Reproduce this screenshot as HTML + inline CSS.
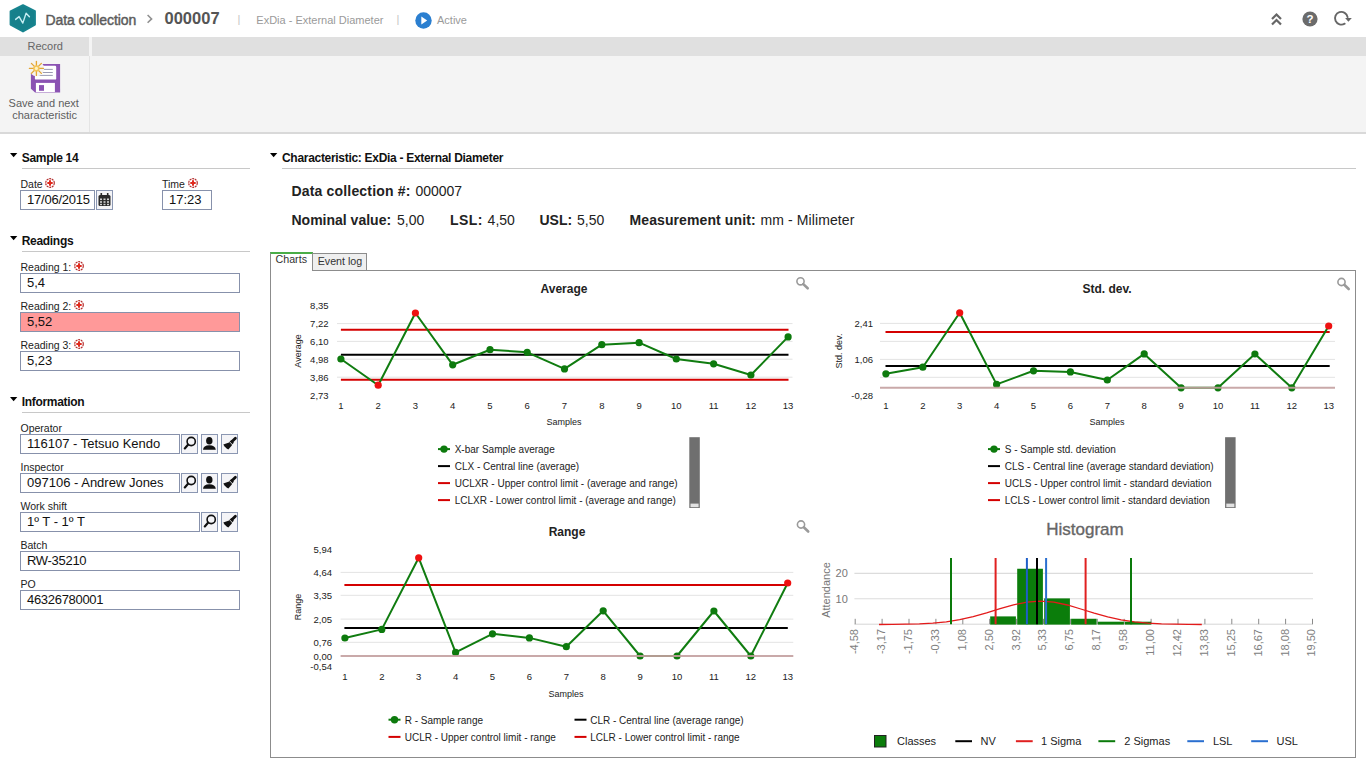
<!DOCTYPE html>
<html><head><meta charset="utf-8"><title>Data collection</title>
<style>
*{margin:0;padding:0;box-sizing:border-box}
html,body{width:1366px;height:768px;overflow:hidden;background:#fff;font-family:"Liberation Sans",sans-serif;color:#222}
.a{position:absolute;white-space:nowrap}
#page{position:relative;width:1366px;height:768px;overflow:hidden}
.hdr-t{color:#5c5c5c;font-weight:normal;font-size:14px;letter-spacing:-0.08px;-webkit-text-stroke:0.45px #5c5c5c}
.sub{color:#9a9a9a;font-size:11px}
.sep{color:#c4c4c4;font-size:11px}
.sec{font-weight:bold;font-size:12px;letter-spacing:-0.3px;color:#111}
.tri{width:0;height:0;border-left:3.8px solid transparent;border-right:3.8px solid transparent;border-top:4.2px solid #111;position:absolute}
.hr{position:absolute;height:1px;background:#c8c8c8}
.lbl{font-size:10.5px;color:#222}
.inp{position:absolute;border:1px solid #8791ab;background:#fff;font-size:13px;color:#111;padding-left:6px;line-height:17px;height:20px}
.btn{position:absolute;border:1px solid #8b97b2;background:#f4f4f7;height:20px;width:17px}
.req{position:absolute;width:10px;height:10px}
</style></head>
<body><div id="page">

<!-- ===== header ===== -->
<svg class="a" style="left:6px;top:2px" width="34" height="34" viewBox="0 0 34 34">
  <path d="M17 3.2 L28.9 9.2 L28.9 22.6 L17 29.5 L4.6 22.6 L4.6 9.4 Z" fill="#16808b" stroke="#17848f" stroke-width="2" stroke-linejoin="round"/>
  <path d="M9.6 17.4 L13.1 14.6 L16.8 21.1 L20.1 11.2 L23.4 14.8" fill="none" stroke="#c6edf3" stroke-width="1.4" stroke-linejoin="round" stroke-linecap="round"/>
</svg>
<div class="a hdr-t" style="left:45.5px;top:11.5px;line-height:17px">Data collection</div>
<svg class="a" style="left:146px;top:14px" width="8" height="10"><path d="M1.6 1 L5.6 4.9 L1.6 8.8" fill="none" stroke="#909090" stroke-width="1.6"/></svg>
<div class="a" style="left:164.5px;top:9px;font-size:16.5px;font-weight:bold;color:#555;line-height:18px">000007</div>
<div class="a sep" style="left:237.5px;top:13px">|</div>
<div class="a sub" style="left:256.3px;top:14px">ExDia - External Diameter</div>
<div class="a sep" style="left:396.5px;top:13px">|</div>
<svg class="a" style="left:414.5px;top:11.5px" width="17" height="17"><circle cx="8.5" cy="8.5" r="8.2" fill="#2b7fd0"/><path d="M6.3 4.6 L12.2 8.5 L6.3 12.4 Z" fill="#fff"/></svg>
<div class="a sub" style="left:437px;top:14px">Active</div>
<!-- right icons -->
<svg class="a" style="left:1270px;top:12px" width="13" height="15"><path d="M2 7 L6.5 2.5 L11 7 M2 12.5 L6.5 8 L11 12.5" fill="none" stroke="#666" stroke-width="2.2"/></svg>
<svg class="a" style="left:1301.5px;top:10.5px" width="16" height="16"><circle cx="8" cy="8" r="7.6" fill="#6b6b6b"/><text x="8" y="12.2" font-size="11.5" font-weight="bold" fill="#fff" text-anchor="middle" font-family="Liberation Sans">?</text></svg>
<svg class="a" style="left:1333px;top:10px" width="20" height="17"><path d="M11.71 13.64 A6.35 6.35 0 1 1 14.60 7.15" fill="none" stroke="#666" stroke-width="1.9" stroke-linecap="round"/><path d="M12.1 7.9 L18.8 7.9 L15.4 11.7 Z" fill="#666"/></svg>

<!-- ===== toolbar ===== -->
<div class="a" style="left:0;top:37px;width:1366px;height:95px;background:#f4f4f4"></div>
<div class="a" style="left:0;top:37px;width:89px;height:19px;background:#e0e0e0"></div>
<div class="a" style="left:92px;top:37px;width:1274px;height:19px;background:#e0e0e0"></div>
<div class="a" style="left:89px;top:56px;width:1px;height:76px;background:#e4e4e4"></div>
<div class="a" style="left:0;top:132px;width:1366px;height:2px;background:#d9d9d9"></div>
<div class="a" style="left:27.5px;top:39.5px;font-size:11px;color:#666">Record</div>
<svg class="a" style="left:26px;top:58px" width="40" height="40" viewBox="0 0 40 40">
  <path d="M4.9 6 L34.1 6 L34.1 34.6 L9.1 34.6 L4.9 30.7 Z" fill="#8b53b3"/>
  <rect x="8.9" y="7.8" width="21.3" height="13.8" rx="1.2" fill="#fff"/>
  <line x1="12" y1="11.4" x2="26.8" y2="11.4" stroke="#8d8fa8" stroke-width="0.9"/>
  <line x1="12" y1="14.5" x2="26.8" y2="14.5" stroke="#8d8fa8" stroke-width="0.9"/>
  <line x1="12" y1="17.4" x2="26.8" y2="17.4" stroke="#8d8fa8" stroke-width="0.9"/>
  <rect x="9.9" y="24.9" width="19" height="9.2" fill="#fff"/>
  <rect x="13" y="27.1" width="5" height="5.7" fill="#8b53b3"/>
  <circle cx="10.6" cy="10.6" r="7.6" fill="#f6f3ee"/><g stroke="#e3a533" stroke-width="1.3" stroke-linecap="round"><line x1="10.4" y1="3.4" x2="10.4" y2="17.4"/><line x1="3.4" y1="10.4" x2="17.4" y2="10.4"/><line x1="5.4" y1="5.4" x2="15.4" y2="15.4"/><line x1="15.4" y1="5.4" x2="5.4" y2="15.4"/></g>
  <circle cx="10.4" cy="10.4" r="3.2" fill="#f3c45a"/><circle cx="10.4" cy="10.4" r="1.6" fill="#fff3c0"/>
</svg>
<div class="a" style="left:8.6px;top:97px;font-size:11px;color:#5e5e5e">Save and next</div>
<div class="a" style="left:12.2px;top:109px;font-size:11px;color:#5e5e5e">characteristic</div>

<!-- ===== left panel ===== -->
<svg class="a" style="left:9.8px;top:152.7px" width="8" height="5"><path d="M0 0 H7.3 L3.65 4.3 Z" fill="#000"/></svg>
<div class="a sec" style="left:21.7px;top:150.5px">Sample 14</div>
<div class="hr" style="left:22px;top:168px;width:228px"></div>
<div class="a lbl" style="left:20.5px;top:177.5px">Date</div>
<svg class="a" style="left:45.4px;top:178.0px" width="10" height="10" viewBox="0 0 10 10"><circle cx="5" cy="5" r="4.3" fill="none" stroke="#b53030" stroke-width="1.2" stroke-dasharray="2 0.7"/><path d="M5 2.3 V7.7 M2.3 5 H7.7" stroke="#e02a1e" stroke-width="2"/></svg>
<div class="inp" style="left:20px;top:190px;width:75px;padding-left:6px;letter-spacing:-0.22px">17/06/2015</div>
<div class="btn" style="left:96px;top:190px"></div>
<svg class="a" style="left:98px;top:192px" width="13" height="15" viewBox="0 0 13 15"><rect x="0.5" y="3" width="12" height="11" rx="1.5" fill="#2a2a2a"/><rect x="2.5" y="1" width="1.6" height="4" fill="#2a2a2a"/><rect x="8.9" y="1" width="1.6" height="4" fill="#2a2a2a"/><g fill="#d0d0d0"><rect x="2" y="6.5" width="2" height="1.6"/><rect x="5.5" y="6.5" width="2" height="1.6"/><rect x="9" y="6.5" width="2" height="1.6"/><rect x="2" y="9.2" width="2" height="1.6"/><rect x="5.5" y="9.2" width="2" height="1.6"/><rect x="9" y="9.2" width="2" height="1.6"/><rect x="2" y="11.8" width="2" height="1.4"/><rect x="5.5" y="11.8" width="2" height="1.4"/><rect x="9" y="11.8" width="2" height="1.4"/></g></svg>
<div class="a lbl" style="left:162px;top:177.5px">Time</div>
<svg class="a" style="left:188.2px;top:178.0px" width="10" height="10" viewBox="0 0 10 10"><circle cx="5" cy="5" r="4.3" fill="none" stroke="#b53030" stroke-width="1.2" stroke-dasharray="2 0.7"/><path d="M5 2.3 V7.7 M2.3 5 H7.7" stroke="#e02a1e" stroke-width="2"/></svg>
<div class="inp" style="left:162px;top:190px;width:50px">17:23</div>

<svg class="a" style="left:9.8px;top:236.2px" width="8" height="5"><path d="M0 0 H7.3 L3.65 4.3 Z" fill="#000"/></svg>
<div class="a sec" style="left:21.7px;top:233.5px">Readings</div>
<div class="hr" style="left:22px;top:251px;width:228px"></div>
<div class="a lbl" style="left:20.5px;top:261px">Reading 1:</div>
<svg class="a" style="left:74.2px;top:261.4px" width="10" height="10" viewBox="0 0 10 10"><circle cx="5" cy="5" r="4.3" fill="none" stroke="#b53030" stroke-width="1.2" stroke-dasharray="2 0.7"/><path d="M5 2.3 V7.7 M2.3 5 H7.7" stroke="#e02a1e" stroke-width="2"/></svg>
<div class="inp" style="left:20px;top:273px;width:220px">5,4</div>
<div class="a lbl" style="left:20.5px;top:300px">Reading 2:</div>
<svg class="a" style="left:74.2px;top:300.4px" width="10" height="10" viewBox="0 0 10 10"><circle cx="5" cy="5" r="4.3" fill="none" stroke="#b53030" stroke-width="1.2" stroke-dasharray="2 0.7"/><path d="M5 2.3 V7.7 M2.3 5 H7.7" stroke="#e02a1e" stroke-width="2"/></svg>
<div class="inp" style="left:20px;top:312px;width:220px;background:#ff9999">5,52</div>
<div class="a lbl" style="left:20.5px;top:339px">Reading 3:</div>
<svg class="a" style="left:74.2px;top:339.4px" width="10" height="10" viewBox="0 0 10 10"><circle cx="5" cy="5" r="4.3" fill="none" stroke="#b53030" stroke-width="1.2" stroke-dasharray="2 0.7"/><path d="M5 2.3 V7.7 M2.3 5 H7.7" stroke="#e02a1e" stroke-width="2"/></svg>
<div class="inp" style="left:20px;top:351px;width:220px">5,23</div>

<svg class="a" style="left:9.8px;top:397.2px" width="8" height="5"><path d="M0 0 H7.3 L3.65 4.3 Z" fill="#000"/></svg>
<div class="a sec" style="left:21.7px;top:394.5px">Information</div>
<div class="hr" style="left:22px;top:412px;width:228px"></div>
<div class="a lbl" style="left:20.5px;top:422px">Operator</div>
<div class="inp" style="left:20px;top:434px;width:160px">116107 - Tetsuo Kendo</div>
<div class="btn" style="left:181px;top:434.0px"></div><div class="a" style="left:181px;top:434.0px;line-height:0"><svg width="17" height="20" viewBox="0 0 17 20"><circle cx="10.2" cy="7.5" r="4.1" fill="none" stroke="#111" stroke-width="1.6"/><line x1="7.2" y1="10.6" x2="3.8" y2="14.4" stroke="#111" stroke-width="2.2" stroke-linecap="round"/></svg></div><div class="btn" style="left:201px;top:434.0px"></div><div class="a" style="left:201px;top:434.0px;line-height:0"><svg width="17" height="20" viewBox="0 0 17 20"><ellipse cx="8.3" cy="6.7" rx="3.2" ry="3.8" fill="#111"/><path d="M2 15.8 Q2.4 11.2 8.3 11.2 Q14.3 11.2 14.8 15.8 Z" fill="#111"/></svg></div><div class="btn" style="left:221px;top:434.0px"></div><div class="a" style="left:221px;top:434.0px;line-height:0"><svg width="17" height="20" viewBox="0 0 17 20"><line x1="14.4" y1="4.2" x2="11" y2="7.6" stroke="#111" stroke-width="2.8" stroke-linecap="round"/><path d="M10.3 6.1 L12.9 8.7 L10.5 11.1 L7.9 8.5 Z" fill="#111"/><path d="M8.1 8.4 L11 11.3 L7.3 15.6 L5.6 14.4 L3.4 12.2 L2.3 10.5 Z" fill="#111"/><line x1="8.4" y1="7.6" x2="11.8" y2="11" stroke="#ddd" stroke-width="0.9"/></svg></div>
<div class="a lbl" style="left:20.5px;top:461px">Inspector</div>
<div class="inp" style="left:20px;top:473px;width:160px">097106 - Andrew Jones</div>
<div class="btn" style="left:181px;top:473.0px"></div><div class="a" style="left:181px;top:473.0px;line-height:0"><svg width="17" height="20" viewBox="0 0 17 20"><circle cx="10.2" cy="7.5" r="4.1" fill="none" stroke="#111" stroke-width="1.6"/><line x1="7.2" y1="10.6" x2="3.8" y2="14.4" stroke="#111" stroke-width="2.2" stroke-linecap="round"/></svg></div><div class="btn" style="left:201px;top:473.0px"></div><div class="a" style="left:201px;top:473.0px;line-height:0"><svg width="17" height="20" viewBox="0 0 17 20"><ellipse cx="8.3" cy="6.7" rx="3.2" ry="3.8" fill="#111"/><path d="M2 15.8 Q2.4 11.2 8.3 11.2 Q14.3 11.2 14.8 15.8 Z" fill="#111"/></svg></div><div class="btn" style="left:221px;top:473.0px"></div><div class="a" style="left:221px;top:473.0px;line-height:0"><svg width="17" height="20" viewBox="0 0 17 20"><line x1="14.4" y1="4.2" x2="11" y2="7.6" stroke="#111" stroke-width="2.8" stroke-linecap="round"/><path d="M10.3 6.1 L12.9 8.7 L10.5 11.1 L7.9 8.5 Z" fill="#111"/><path d="M8.1 8.4 L11 11.3 L7.3 15.6 L5.6 14.4 L3.4 12.2 L2.3 10.5 Z" fill="#111"/><line x1="8.4" y1="7.6" x2="11.8" y2="11" stroke="#ddd" stroke-width="0.9"/></svg></div>
<div class="a lbl" style="left:20.5px;top:500px">Work shift</div>
<div class="inp" style="left:20px;top:512px;width:180px">1º T - 1º T</div>
<div class="btn" style="left:201px;top:512.0px"></div><div class="a" style="left:201px;top:512.0px;line-height:0"><svg width="17" height="20" viewBox="0 0 17 20"><circle cx="10.2" cy="7.5" r="4.1" fill="none" stroke="#111" stroke-width="1.6"/><line x1="7.2" y1="10.6" x2="3.8" y2="14.4" stroke="#111" stroke-width="2.2" stroke-linecap="round"/></svg></div><div class="btn" style="left:221px;top:512.0px"></div><div class="a" style="left:221px;top:512.0px;line-height:0"><svg width="17" height="20" viewBox="0 0 17 20"><line x1="14.4" y1="4.2" x2="11" y2="7.6" stroke="#111" stroke-width="2.8" stroke-linecap="round"/><path d="M10.3 6.1 L12.9 8.7 L10.5 11.1 L7.9 8.5 Z" fill="#111"/><path d="M8.1 8.4 L11 11.3 L7.3 15.6 L5.6 14.4 L3.4 12.2 L2.3 10.5 Z" fill="#111"/><line x1="8.4" y1="7.6" x2="11.8" y2="11" stroke="#ddd" stroke-width="0.9"/></svg></div>
<div class="a lbl" style="left:20.5px;top:539px">Batch</div>
<div class="inp" style="left:20px;top:551px;width:220px;letter-spacing:-0.3px">RW-35210</div>
<div class="a lbl" style="left:20.5px;top:578px">PO</div>
<div class="inp" style="left:20px;top:590px;width:220px;letter-spacing:-0.3px">46326780001</div>

<!-- ===== main ===== -->
<svg class="a" style="left:269.8px;top:153.2px" width="8" height="5"><path d="M0 0 H7.3 L3.65 4.3 Z" fill="#000"/></svg>
<div class="a sec" style="left:282px;top:151px">Characteristic: ExDia - External Diameter</div>
<div class="hr" style="left:282px;top:168px;width:1074px"></div>
<div class="a" style="left:291.5px;top:183px;font-size:14px"><b style="letter-spacing:0.17px">Data collection #:</b> <span style="margin-left:1px">000007</span></div>
<div class="a" style="left:291.5px;top:212px;font-size:14px"><b>Nominal value:</b> <span style="margin-left:2px">5,00</span></div>
<div class="a" style="left:450px;top:212px;font-size:14px"><b style="letter-spacing:0.4px">LSL:</b> <span style="margin-left:1px">4,50</span></div>
<div class="a" style="left:539.5px;top:212px;font-size:14px"><b>USL:</b> <span style="margin-left:1px">5,50</span></div>
<div class="a" style="left:629.5px;top:212px;font-size:14px"><b style="letter-spacing:0.1px">Measurement unit:</b> <span style="margin-left:1px;letter-spacing:0.1px">mm - Milimeter</span></div>

<!-- tabs -->
<div class="a" style="left:270px;top:270px;width:1086px;height:488px;border:1px solid #8c8c8c;border-top-color:#8c8c8c"></div>
<div class="a" style="left:312px;top:253px;width:55px;height:18px;border:1px solid #8c8c8c;background:#efefef"></div>
<div class="a" style="left:270px;top:252px;width:43px;height:19px;border:1px solid #8c8c8c;border-bottom:none;background:#fff;border-top:2px solid #4aad47"></div>
<div class="a" style="left:275.5px;top:253px;font-size:10.7px;color:#333">Charts</div>
<div class="a" style="left:317.7px;top:254.5px;font-size:10.7px;color:#333">Event log</div>

<svg class="a" style="left:0;top:0" width="1366" height="768" font-family="Liberation Sans, sans-serif">
<line x1="337" y1="323.6" x2="792.5" y2="323.6" stroke="#e3e3e3" stroke-width="1"/>
<line x1="337" y1="341.4" x2="792.5" y2="341.4" stroke="#e3e3e3" stroke-width="1"/>
<line x1="337" y1="359.2" x2="792.5" y2="359.2" stroke="#e3e3e3" stroke-width="1"/>
<line x1="337" y1="377.2" x2="792.5" y2="377.2" stroke="#e3e3e3" stroke-width="1"/>
<line x1="340.9" y1="329.7" x2="788.5" y2="329.7" stroke="#d40000" stroke-width="2"/>
<line x1="340.9" y1="379.8" x2="788.5" y2="379.8" stroke="#d40000" stroke-width="2"/>
<line x1="340.9" y1="354.8" x2="788.5" y2="354.8" stroke="#000" stroke-width="2"/>
<polyline fill="none" stroke="#107c10" stroke-width="2" stroke-linejoin="round" points="340.9,359.0 378.2,385.2 415.4,313.0 452.7,364.8 490.0,349.7 527.2,352.3 564.5,368.9 601.8,344.7 639.1,342.7 676.3,359.0 713.6,363.8 750.9,375.0 788.1,336.9"/>
<circle cx="340.9" cy="359.0" r="3.6" fill="#0d7a0d"/>
<circle cx="378.2" cy="385.2" r="3.6" fill="#ee1111"/>
<circle cx="415.4" cy="313.0" r="3.6" fill="#ee1111"/>
<circle cx="452.7" cy="364.8" r="3.6" fill="#0d7a0d"/>
<circle cx="490.0" cy="349.7" r="3.6" fill="#0d7a0d"/>
<circle cx="527.2" cy="352.3" r="3.6" fill="#0d7a0d"/>
<circle cx="564.5" cy="368.9" r="3.6" fill="#0d7a0d"/>
<circle cx="601.8" cy="344.7" r="3.6" fill="#0d7a0d"/>
<circle cx="639.1" cy="342.7" r="3.6" fill="#0d7a0d"/>
<circle cx="676.3" cy="359.0" r="3.6" fill="#0d7a0d"/>
<circle cx="713.6" cy="363.8" r="3.6" fill="#0d7a0d"/>
<circle cx="750.9" cy="375.0" r="3.6" fill="#0d7a0d"/>
<circle cx="788.1" cy="336.9" r="3.6" fill="#0d7a0d"/>
<text x="328.6" y="309.4" font-size="9.5" fill="#222" font-weight="normal" text-anchor="end" >8,35</text>
<text x="328.6" y="327.0" font-size="9.5" fill="#222" font-weight="normal" text-anchor="end" >7,22</text>
<text x="328.6" y="344.79999999999995" font-size="9.5" fill="#222" font-weight="normal" text-anchor="end" >6,10</text>
<text x="328.6" y="362.59999999999997" font-size="9.5" fill="#222" font-weight="normal" text-anchor="end" >4,98</text>
<text x="328.6" y="380.59999999999997" font-size="9.5" fill="#222" font-weight="normal" text-anchor="end" >3,86</text>
<text x="328.6" y="398.9" font-size="9.5" fill="#222" font-weight="normal" text-anchor="end" >2,73</text>
<text x="340.9" y="409.4" font-size="9.5" fill="#222" font-weight="normal" text-anchor="middle" >1</text>
<text x="378.2" y="409.4" font-size="9.5" fill="#222" font-weight="normal" text-anchor="middle" >2</text>
<text x="415.4" y="409.4" font-size="9.5" fill="#222" font-weight="normal" text-anchor="middle" >3</text>
<text x="452.7" y="409.4" font-size="9.5" fill="#222" font-weight="normal" text-anchor="middle" >4</text>
<text x="490.0" y="409.4" font-size="9.5" fill="#222" font-weight="normal" text-anchor="middle" >5</text>
<text x="527.2" y="409.4" font-size="9.5" fill="#222" font-weight="normal" text-anchor="middle" >6</text>
<text x="564.5" y="409.4" font-size="9.5" fill="#222" font-weight="normal" text-anchor="middle" >7</text>
<text x="601.8" y="409.4" font-size="9.5" fill="#222" font-weight="normal" text-anchor="middle" >8</text>
<text x="639.1" y="409.4" font-size="9.5" fill="#222" font-weight="normal" text-anchor="middle" >9</text>
<text x="676.3" y="409.4" font-size="9.5" fill="#222" font-weight="normal" text-anchor="middle" >10</text>
<text x="713.6" y="409.4" font-size="9.5" fill="#222" font-weight="normal" text-anchor="middle" >11</text>
<text x="750.9" y="409.4" font-size="9.5" fill="#222" font-weight="normal" text-anchor="middle" >12</text>
<text x="788.1" y="409.4" font-size="9.5" fill="#222" font-weight="normal" text-anchor="middle" >13</text>
<text x="564" y="425.2" font-size="9" fill="#222" font-weight="normal" text-anchor="middle" >Samples</text>
<text x="564" y="293" font-size="12" fill="#222" font-weight="bold" text-anchor="middle" >Average</text>
<text x="297.5" y="351" font-size="9" fill="#222" text-anchor="middle" transform="rotate(-90 297.5 351)" dy="3.2">Average</text>
<circle cx="800.5" cy="281.3" r="3.6" fill="none" stroke="#9a9a9a" stroke-width="1.6"/><line x1="803.3" y1="284.1" x2="807.7" y2="288.3" stroke="#9a9a9a" stroke-width="2.6" stroke-linecap="round"/>
<line x1="880" y1="323.4" x2="1335" y2="323.4" stroke="#e3e3e3" stroke-width="1"/>
<line x1="880" y1="341.4" x2="1335" y2="341.4" stroke="#e3e3e3" stroke-width="1"/>
<line x1="880" y1="359.4" x2="1335" y2="359.4" stroke="#e3e3e3" stroke-width="1"/>
<line x1="880" y1="377.3" x2="1335" y2="377.3" stroke="#e3e3e3" stroke-width="1"/>
<line x1="885.5" y1="332" x2="1329.7" y2="332" stroke="#d40000" stroke-width="2"/>
<line x1="885.5" y1="365.9" x2="1329.7" y2="365.9" stroke="#000" stroke-width="2"/>
<polyline fill="none" stroke="#107c10" stroke-width="2" stroke-linejoin="round" points="885.9,373.8 922.8,367.2 959.7,312.8 996.6,384.4 1033.5,370.8 1070.4,371.9 1107.3,380.0 1144.2,353.9 1181.1,387.8 1218.0,387.8 1254.9,354.0 1291.8,387.8 1328.7,326.0"/>
<circle cx="885.9" cy="373.8" r="3.6" fill="#0d7a0d"/>
<circle cx="922.8" cy="367.2" r="3.6" fill="#0d7a0d"/>
<circle cx="959.7" cy="312.8" r="3.6" fill="#ee1111"/>
<circle cx="996.6" cy="384.4" r="3.6" fill="#0d7a0d"/>
<circle cx="1033.5" cy="370.8" r="3.6" fill="#0d7a0d"/>
<circle cx="1070.4" cy="371.9" r="3.6" fill="#0d7a0d"/>
<circle cx="1107.3" cy="380.0" r="3.6" fill="#0d7a0d"/>
<circle cx="1144.2" cy="353.9" r="3.6" fill="#0d7a0d"/>
<circle cx="1181.1" cy="387.8" r="3.6" fill="#0d7a0d"/>
<circle cx="1218.0" cy="387.8" r="3.6" fill="#0d7a0d"/>
<circle cx="1254.9" cy="354.0" r="3.6" fill="#0d7a0d"/>
<circle cx="1291.8" cy="387.8" r="3.6" fill="#0d7a0d"/>
<circle cx="1328.7" cy="326.0" r="3.6" fill="#ee1111"/>
<line x1="880" y1="387.8" x2="1335" y2="387.8" stroke="#c4a0a0" stroke-width="2" opacity="0.9"/>
<text x="873" y="326.79999999999995" font-size="9.5" fill="#222" font-weight="normal" text-anchor="end" >2,41</text>
<text x="873" y="362.79999999999995" font-size="9.5" fill="#222" font-weight="normal" text-anchor="end" >1,06</text>
<text x="873" y="399.0" font-size="9.5" fill="#222" font-weight="normal" text-anchor="end" >-0,28</text>
<text x="885.9" y="409.4" font-size="9.5" fill="#222" font-weight="normal" text-anchor="middle" >1</text>
<text x="922.8" y="409.4" font-size="9.5" fill="#222" font-weight="normal" text-anchor="middle" >2</text>
<text x="959.7" y="409.4" font-size="9.5" fill="#222" font-weight="normal" text-anchor="middle" >3</text>
<text x="996.6" y="409.4" font-size="9.5" fill="#222" font-weight="normal" text-anchor="middle" >4</text>
<text x="1033.5" y="409.4" font-size="9.5" fill="#222" font-weight="normal" text-anchor="middle" >5</text>
<text x="1070.4" y="409.4" font-size="9.5" fill="#222" font-weight="normal" text-anchor="middle" >6</text>
<text x="1107.3" y="409.4" font-size="9.5" fill="#222" font-weight="normal" text-anchor="middle" >7</text>
<text x="1144.2" y="409.4" font-size="9.5" fill="#222" font-weight="normal" text-anchor="middle" >8</text>
<text x="1181.1" y="409.4" font-size="9.5" fill="#222" font-weight="normal" text-anchor="middle" >9</text>
<text x="1218.0" y="409.4" font-size="9.5" fill="#222" font-weight="normal" text-anchor="middle" >10</text>
<text x="1254.9" y="409.4" font-size="9.5" fill="#222" font-weight="normal" text-anchor="middle" >11</text>
<text x="1291.8" y="409.4" font-size="9.5" fill="#222" font-weight="normal" text-anchor="middle" >12</text>
<text x="1328.7" y="409.4" font-size="9.5" fill="#222" font-weight="normal" text-anchor="middle" >13</text>
<text x="1107" y="425.2" font-size="9" fill="#222" font-weight="normal" text-anchor="middle" >Samples</text>
<text x="1107" y="293" font-size="12" fill="#222" font-weight="bold" text-anchor="middle" >Std. dev.</text>
<text x="839" y="351" font-size="9" fill="#222" text-anchor="middle" transform="rotate(-90 839 351)" dy="3.2">Std. dev.</text>
<circle cx="1341.5" cy="282" r="3.6" fill="none" stroke="#9a9a9a" stroke-width="1.6"/><line x1="1344.3" y1="284.8" x2="1348.7" y2="289" stroke="#9a9a9a" stroke-width="2.6" stroke-linecap="round"/>
<line x1="340.6" y1="572.4" x2="793.3" y2="572.4" stroke="#e3e3e3" stroke-width="1"/>
<line x1="340.6" y1="595.3" x2="793.3" y2="595.3" stroke="#e3e3e3" stroke-width="1"/>
<line x1="340.6" y1="619.1" x2="793.3" y2="619.1" stroke="#e3e3e3" stroke-width="1"/>
<line x1="340.6" y1="642.3" x2="793.3" y2="642.3" stroke="#e3e3e3" stroke-width="1"/>
<line x1="344.4" y1="585" x2="787.8" y2="585" stroke="#d40000" stroke-width="2"/>
<line x1="344.4" y1="628" x2="787.8" y2="628" stroke="#000" stroke-width="2"/>
<polyline fill="none" stroke="#107c10" stroke-width="2" stroke-linejoin="round" points="344.9,638.0 381.8,629.4 418.7,557.8 455.6,652.4 492.5,633.8 529.4,637.9 566.3,646.7 603.2,610.8 640.1,656.0 677.0,656.0 713.9,611.0 750.8,656.0 787.7,583.0"/>
<circle cx="344.9" cy="638.0" r="3.6" fill="#0d7a0d"/>
<circle cx="381.8" cy="629.4" r="3.6" fill="#0d7a0d"/>
<circle cx="418.7" cy="557.8" r="3.6" fill="#ee1111"/>
<circle cx="455.6" cy="652.4" r="3.6" fill="#0d7a0d"/>
<circle cx="492.5" cy="633.8" r="3.6" fill="#0d7a0d"/>
<circle cx="529.4" cy="637.9" r="3.6" fill="#0d7a0d"/>
<circle cx="566.3" cy="646.7" r="3.6" fill="#0d7a0d"/>
<circle cx="603.2" cy="610.8" r="3.6" fill="#0d7a0d"/>
<circle cx="640.1" cy="656.0" r="3.6" fill="#0d7a0d"/>
<circle cx="677.0" cy="656.0" r="3.6" fill="#0d7a0d"/>
<circle cx="713.9" cy="611.0" r="3.6" fill="#0d7a0d"/>
<circle cx="750.8" cy="656.0" r="3.6" fill="#0d7a0d"/>
<circle cx="787.7" cy="583.0" r="3.6" fill="#ee1111"/>
<line x1="340.6" y1="656" x2="793.3" y2="656" stroke="#c4a0a0" stroke-width="2" opacity="0.9"/>
<text x="332" y="552.6" font-size="9.5" fill="#222" font-weight="normal" text-anchor="end" >5,94</text>
<text x="332" y="576.4" font-size="9.5" fill="#222" font-weight="normal" text-anchor="end" >4,64</text>
<text x="332" y="599.4" font-size="9.5" fill="#222" font-weight="normal" text-anchor="end" >3,35</text>
<text x="332" y="622.9" font-size="9.5" fill="#222" font-weight="normal" text-anchor="end" >2,05</text>
<text x="332" y="646.4" font-size="9.5" fill="#222" font-weight="normal" text-anchor="end" >0,76</text>
<text x="332" y="660.0" font-size="9.5" fill="#222" font-weight="normal" text-anchor="end" >0,00</text>
<text x="332" y="670.1" font-size="9.5" fill="#222" font-weight="normal" text-anchor="end" >-0,54</text>
<text x="344.9" y="680.4" font-size="9.5" fill="#222" font-weight="normal" text-anchor="middle" >1</text>
<text x="381.8" y="680.4" font-size="9.5" fill="#222" font-weight="normal" text-anchor="middle" >2</text>
<text x="418.7" y="680.4" font-size="9.5" fill="#222" font-weight="normal" text-anchor="middle" >3</text>
<text x="455.6" y="680.4" font-size="9.5" fill="#222" font-weight="normal" text-anchor="middle" >4</text>
<text x="492.5" y="680.4" font-size="9.5" fill="#222" font-weight="normal" text-anchor="middle" >5</text>
<text x="529.4" y="680.4" font-size="9.5" fill="#222" font-weight="normal" text-anchor="middle" >6</text>
<text x="566.3" y="680.4" font-size="9.5" fill="#222" font-weight="normal" text-anchor="middle" >7</text>
<text x="603.2" y="680.4" font-size="9.5" fill="#222" font-weight="normal" text-anchor="middle" >8</text>
<text x="640.1" y="680.4" font-size="9.5" fill="#222" font-weight="normal" text-anchor="middle" >9</text>
<text x="677.0" y="680.4" font-size="9.5" fill="#222" font-weight="normal" text-anchor="middle" >10</text>
<text x="713.9" y="680.4" font-size="9.5" fill="#222" font-weight="normal" text-anchor="middle" >11</text>
<text x="750.8" y="680.4" font-size="9.5" fill="#222" font-weight="normal" text-anchor="middle" >12</text>
<text x="787.7" y="680.4" font-size="9.5" fill="#222" font-weight="normal" text-anchor="middle" >13</text>
<text x="566" y="696.95" font-size="9" fill="#222" font-weight="normal" text-anchor="middle" >Samples</text>
<text x="567" y="536" font-size="12" fill="#222" font-weight="bold" text-anchor="middle" >Range</text>
<text x="297.8" y="607" font-size="9" fill="#222" text-anchor="middle" transform="rotate(-90 297.8 607)" dy="3.2">Range</text>
<circle cx="801" cy="524.5" r="3.6" fill="none" stroke="#9a9a9a" stroke-width="1.6"/><line x1="803.8" y1="527.3" x2="808.2" y2="531.5" stroke="#9a9a9a" stroke-width="2.6" stroke-linecap="round"/>
<line x1="854.4" y1="573.4" x2="1313" y2="573.4" stroke="#dcdcdc" stroke-width="1.2"/>
<line x1="854.4" y1="598.75" x2="1313" y2="598.75" stroke="#dcdcdc" stroke-width="1.2"/>
<line x1="854.4" y1="624.2" x2="1313" y2="624.2" stroke="#d5d5d5" stroke-width="1"/>
<line x1="855.2" y1="618.8" x2="855.2" y2="624.2" stroke="#8a8a8a" stroke-width="1"/>
<text x="858.1" y="629" font-size="11" fill="#808080" text-anchor="end" transform="rotate(-90 858.1 629)">-4,58</text>
<line x1="882.1" y1="618.8" x2="882.1" y2="624.2" stroke="#8a8a8a" stroke-width="1"/>
<text x="885.0" y="629" font-size="11" fill="#808080" text-anchor="end" transform="rotate(-90 885.0 629)">-3,17</text>
<line x1="909.0" y1="618.8" x2="909.0" y2="624.2" stroke="#8a8a8a" stroke-width="1"/>
<text x="911.9" y="629" font-size="11" fill="#808080" text-anchor="end" transform="rotate(-90 911.9 629)">-1,75</text>
<line x1="935.9" y1="618.8" x2="935.9" y2="624.2" stroke="#8a8a8a" stroke-width="1"/>
<text x="938.8" y="629" font-size="11" fill="#808080" text-anchor="end" transform="rotate(-90 938.8 629)">-0,33</text>
<line x1="962.8" y1="618.8" x2="962.8" y2="624.2" stroke="#8a8a8a" stroke-width="1"/>
<text x="965.7" y="629" font-size="11" fill="#808080" text-anchor="end" transform="rotate(-90 965.7 629)">1,08</text>
<line x1="989.7" y1="618.8" x2="989.7" y2="624.2" stroke="#8a8a8a" stroke-width="1"/>
<text x="992.6" y="629" font-size="11" fill="#808080" text-anchor="end" transform="rotate(-90 992.6 629)">2,50</text>
<line x1="1016.6" y1="618.8" x2="1016.6" y2="624.2" stroke="#8a8a8a" stroke-width="1"/>
<text x="1019.5" y="629" font-size="11" fill="#808080" text-anchor="end" transform="rotate(-90 1019.5 629)">3,92</text>
<line x1="1043.5" y1="618.8" x2="1043.5" y2="624.2" stroke="#8a8a8a" stroke-width="1"/>
<text x="1046.4" y="629" font-size="11" fill="#808080" text-anchor="end" transform="rotate(-90 1046.4 629)">5,33</text>
<line x1="1070.4" y1="618.8" x2="1070.4" y2="624.2" stroke="#8a8a8a" stroke-width="1"/>
<text x="1073.3" y="629" font-size="11" fill="#808080" text-anchor="end" transform="rotate(-90 1073.3 629)">6,75</text>
<line x1="1097.3" y1="618.8" x2="1097.3" y2="624.2" stroke="#8a8a8a" stroke-width="1"/>
<text x="1100.2" y="629" font-size="11" fill="#808080" text-anchor="end" transform="rotate(-90 1100.2 629)">8,17</text>
<line x1="1124.2" y1="618.8" x2="1124.2" y2="624.2" stroke="#8a8a8a" stroke-width="1"/>
<text x="1127.1" y="629" font-size="11" fill="#808080" text-anchor="end" transform="rotate(-90 1127.1 629)">9,58</text>
<line x1="1151.1" y1="618.8" x2="1151.1" y2="624.2" stroke="#8a8a8a" stroke-width="1"/>
<text x="1154.0" y="629" font-size="11" fill="#808080" text-anchor="end" transform="rotate(-90 1154.0 629)">11,00</text>
<line x1="1178.0" y1="618.8" x2="1178.0" y2="624.2" stroke="#8a8a8a" stroke-width="1"/>
<text x="1180.9" y="629" font-size="11" fill="#808080" text-anchor="end" transform="rotate(-90 1180.9 629)">12,42</text>
<line x1="1204.9" y1="618.8" x2="1204.9" y2="624.2" stroke="#8a8a8a" stroke-width="1"/>
<text x="1207.8" y="629" font-size="11" fill="#808080" text-anchor="end" transform="rotate(-90 1207.8 629)">13,83</text>
<line x1="1231.8" y1="618.8" x2="1231.8" y2="624.2" stroke="#8a8a8a" stroke-width="1"/>
<text x="1234.7" y="629" font-size="11" fill="#808080" text-anchor="end" transform="rotate(-90 1234.7 629)">15,25</text>
<line x1="1258.7" y1="618.8" x2="1258.7" y2="624.2" stroke="#8a8a8a" stroke-width="1"/>
<text x="1261.6" y="629" font-size="11" fill="#808080" text-anchor="end" transform="rotate(-90 1261.6 629)">16,67</text>
<line x1="1285.6" y1="618.8" x2="1285.6" y2="624.2" stroke="#8a8a8a" stroke-width="1"/>
<text x="1288.5" y="629" font-size="11" fill="#808080" text-anchor="end" transform="rotate(-90 1288.5 629)">18,08</text>
<line x1="1312.5" y1="618.8" x2="1312.5" y2="624.2" stroke="#8a8a8a" stroke-width="1"/>
<text x="1315.4" y="629" font-size="11" fill="#808080" text-anchor="end" transform="rotate(-90 1315.4 629)">19,50</text>
<rect x="990.2" y="616.4" width="25.7" height="8.2" fill="#0b7d0b"/>
<rect x="1017.2" y="568.75" width="25.7" height="55.9" fill="#0b7d0b"/>
<rect x="1044.2" y="598.4" width="25.7" height="26.2" fill="#0b7d0b"/>
<rect x="1071.1" y="618.75" width="25.5" height="5.9" fill="#0b7d0b"/>
<rect x="1097.8" y="621.7" width="26.1" height="2.9" fill="#0b7d0b"/>
<rect x="1124.9" y="621.7" width="26.4" height="2.9" fill="#0b7d0b"/>
<polyline fill="none" stroke="#e31a1a" stroke-width="1.3" points="879.0,624.5 892.5,624.4 905.9,624.2 919.4,623.9 932.8,623.1 946.3,621.8 959.7,619.7 973.2,616.7 986.6,612.9 1000.1,608.7 1013.5,604.8 1027.0,602.1 1040.4,601.1 1053.9,602.2 1067.3,605.0 1080.8,609.0 1094.2,613.2 1107.7,616.9 1121.1,619.9 1134.6,621.9 1148.0,623.2 1161.5,623.9 1174.9,624.2 1188.4,624.4 1201.8,624.5"/>
<line x1="951" y1="558" x2="951" y2="624.2" stroke="#0a7a0a" stroke-width="2"/>
<line x1="995.6" y1="558" x2="995.6" y2="624.2" stroke="#e02020" stroke-width="2"/>
<line x1="1026.9" y1="558" x2="1026.9" y2="624.2" stroke="#1f5fc8" stroke-width="2"/>
<line x1="1037" y1="558" x2="1037" y2="624.2" stroke="#000" stroke-width="2"/>
<line x1="1046.1" y1="558" x2="1046.1" y2="624.2" stroke="#2a6fd0" stroke-width="2"/>
<line x1="1085.6" y1="558" x2="1085.6" y2="624.2" stroke="#e02020" stroke-width="2"/>
<line x1="1131" y1="558" x2="1131" y2="624.2" stroke="#0a7a0a" stroke-width="2"/>
<text x="847.8" y="577.4" font-size="11" fill="#777" font-weight="normal" text-anchor="end" >20</text>
<text x="847.8" y="602.7" font-size="11" fill="#777" font-weight="normal" text-anchor="end" >10</text>
<text x="825.6" y="590" font-size="11" fill="#777" text-anchor="middle" dy="4" transform="rotate(-90 825.6 590)">Attendance</text>
<text x="1085" y="534.7" font-size="17" fill="#666" font-weight="normal" text-anchor="middle" stroke="#666" stroke-width="0.35">Histogram</text>
<rect x="874.5" y="735.5" width="11.5" height="11.5" fill="#0b7d0b" stroke="#222" stroke-width="1"/>
<text x="897" y="745" font-size="11" fill="#222" font-weight="normal" text-anchor="start" >Classes</text>
<line x1="955.3" y1="741.2" x2="972" y2="741.2" stroke="#000" stroke-width="2"/>
<text x="980.5" y="745" font-size="11" fill="#222" font-weight="normal" text-anchor="start" >NV</text>
<line x1="1015.9" y1="741.2" x2="1032.7" y2="741.2" stroke="#e02020" stroke-width="2"/>
<text x="1041" y="745" font-size="11" fill="#222" font-weight="normal" text-anchor="start" >1 Sigma</text>
<line x1="1098.4" y1="741.2" x2="1115.2" y2="741.2" stroke="#0a7a0a" stroke-width="2"/>
<text x="1124.3" y="745" font-size="11" fill="#222" font-weight="normal" text-anchor="start" >2 Sigmas</text>
<line x1="1187.3" y1="741.2" x2="1204" y2="741.2" stroke="#2a6fd0" stroke-width="2"/>
<text x="1212.9" y="745" font-size="11" fill="#222" font-weight="normal" text-anchor="start" >LSL</text>
<line x1="1251.2" y1="741.2" x2="1268" y2="741.2" stroke="#2a6fd0" stroke-width="2"/>
<text x="1276.5" y="745" font-size="11" fill="#222" font-weight="normal" text-anchor="start" >USL</text>
<line x1="438" y1="449.1" x2="450" y2="449.1" stroke="#0d7a0d" stroke-width="2"/><circle cx="444" cy="449.1" r="3.7" fill="#0d7a0d"/>
<text x="454.7" y="453.3" font-size="10" fill="#222" font-weight="normal" text-anchor="start" >X-bar Sample average</text>
<line x1="438" y1="466.1" x2="450" y2="466.1" stroke="#000" stroke-width="2"/>
<text x="454.7" y="470.3" font-size="10" fill="#222" font-weight="normal" text-anchor="start" >CLX - Central line (average)</text>
<line x1="438" y1="483.1" x2="450" y2="483.1" stroke="#d40000" stroke-width="2"/>
<text x="454.7" y="487.3" font-size="10" fill="#222" font-weight="normal" text-anchor="start" >UCLXR - Upper control limit - (average and range)</text>
<line x1="438" y1="500.1" x2="450" y2="500.1" stroke="#d40000" stroke-width="2"/>
<text x="454.7" y="504.3" font-size="10" fill="#222" font-weight="normal" text-anchor="start" >LCLXR - Lower control limit - (average and range)</text>
<line x1="988" y1="449.1" x2="1000" y2="449.1" stroke="#0d7a0d" stroke-width="2"/><circle cx="994" cy="449.1" r="3.7" fill="#0d7a0d"/>
<text x="1004.7" y="453.3" font-size="10" fill="#222" font-weight="normal" text-anchor="start" >S - Sample std. deviation</text>
<line x1="988" y1="466.1" x2="1000" y2="466.1" stroke="#000" stroke-width="2"/>
<text x="1004.7" y="470.3" font-size="10" fill="#222" font-weight="normal" text-anchor="start" >CLS - Central line (average standard deviation)</text>
<line x1="988" y1="483.1" x2="1000" y2="483.1" stroke="#d40000" stroke-width="2"/>
<text x="1004.7" y="487.3" font-size="10" fill="#222" font-weight="normal" text-anchor="start" >UCLS - Upper control limit - standard deviation</text>
<line x1="988" y1="500.1" x2="1000" y2="500.1" stroke="#d40000" stroke-width="2"/>
<text x="1004.7" y="504.3" font-size="10" fill="#222" font-weight="normal" text-anchor="start" >LCLS - Lower control limit - standard deviation</text>
<line x1="388.5" y1="719.6999999999999" x2="400.5" y2="719.6999999999999" stroke="#0d7a0d" stroke-width="2"/><circle cx="394.5" cy="719.6999999999999" r="3.7" fill="#0d7a0d"/>
<text x="404.7" y="723.9" font-size="10" fill="#222" font-weight="normal" text-anchor="start" >R - Sample range</text>
<line x1="388.5" y1="736.9" x2="400.5" y2="736.9" stroke="#d40000" stroke-width="2"/>
<text x="404.7" y="741.1" font-size="10" fill="#222" font-weight="normal" text-anchor="start" >UCLR - Upper control limit - range</text>
<line x1="574.5" y1="719.6999999999999" x2="586.5" y2="719.6999999999999" stroke="#000" stroke-width="2"/>
<text x="590.2" y="723.9" font-size="10" fill="#222" font-weight="normal" text-anchor="start" >CLR - Central line (average range)</text>
<line x1="574.5" y1="736.9" x2="586.5" y2="736.9" stroke="#d40000" stroke-width="2"/>
<text x="590.2" y="741.1" font-size="10" fill="#222" font-weight="normal" text-anchor="start" >LCLR - Lower control limit - range</text>
<rect x="689.3" y="437.2" width="10.5" height="70.8" fill="#6f6f6f"/><rect x="690.5" y="503.6" width="8.1" height="3.6" fill="#e2e2e2"/>
<rect x="1225.1" y="437.2" width="10.5" height="70.8" fill="#6f6f6f"/><rect x="1226.3" y="503.6" width="8.1" height="3.6" fill="#e2e2e2"/>
</svg>

</div></body></html>
